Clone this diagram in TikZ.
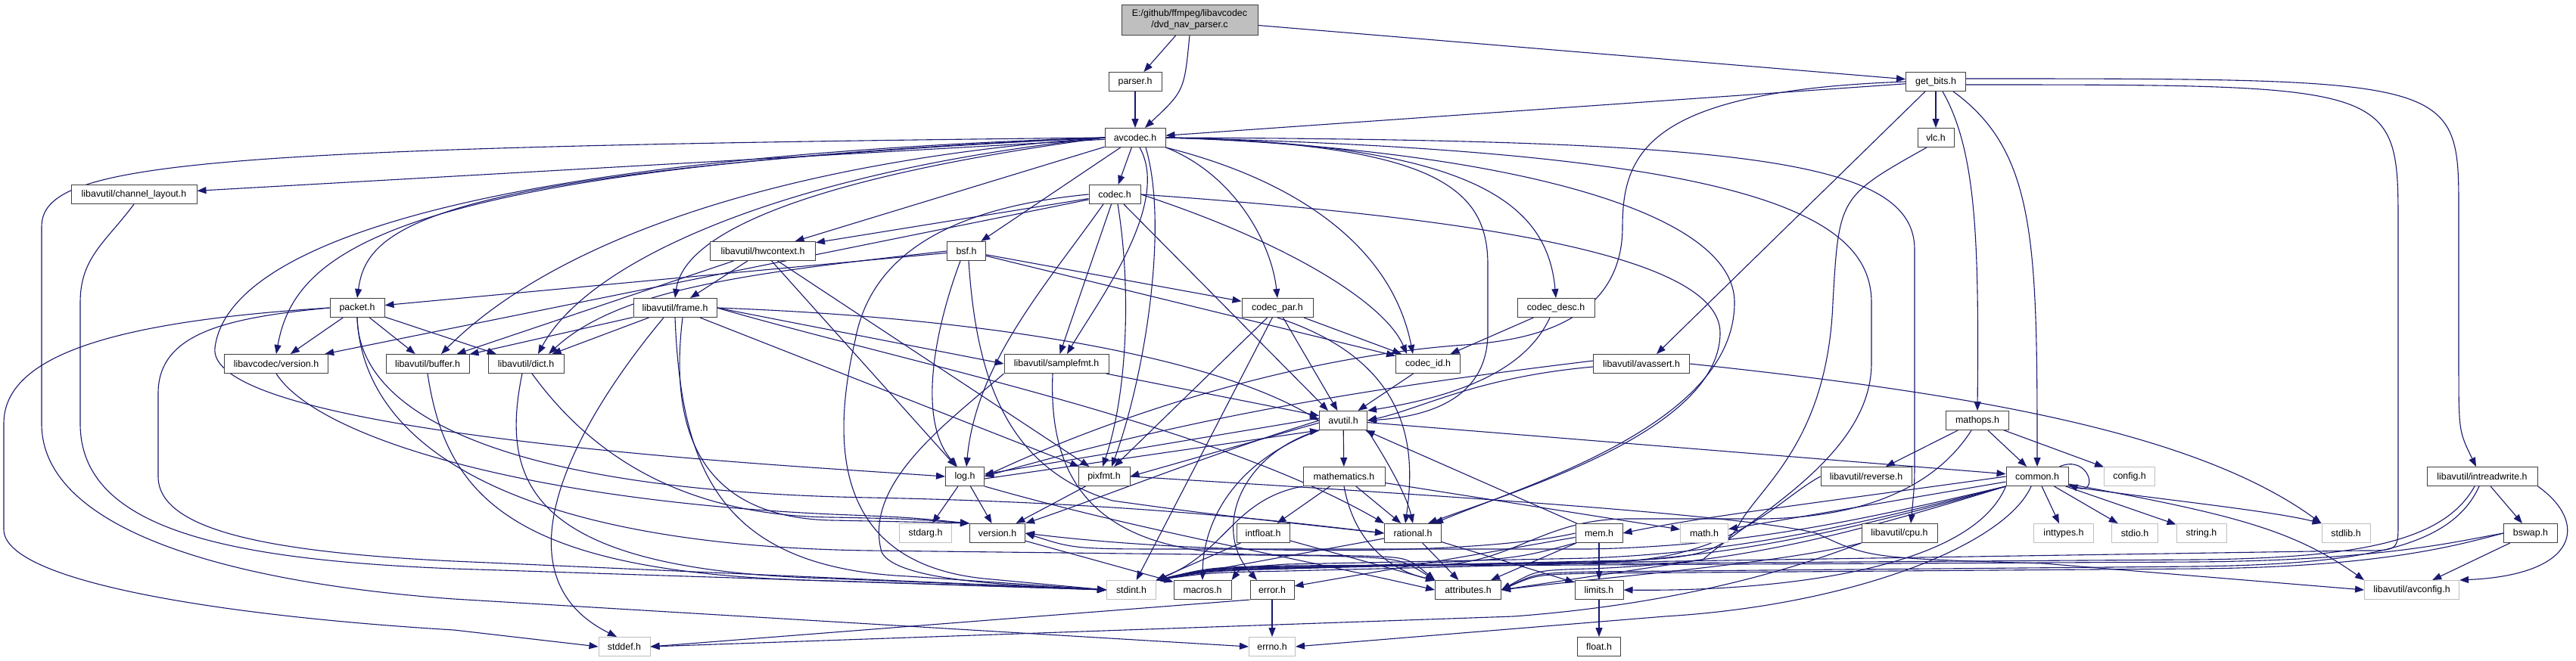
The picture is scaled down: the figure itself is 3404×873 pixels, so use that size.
\documentclass[tikz,border=0pt]{standalone}
\usepackage{fontspec}
\setmainfont{Liberation Sans}
\usepackage{xcolor}
\definecolor{depblue}{RGB}{25,25,112}
\definecolor{boxgray}{RGB}{64,64,64}
\definecolor{sysgray}{RGB}{191,191,191}
\definecolor{rootgray}{RGB}{191,191,191}
\usetikzlibrary{arrows.meta,backgrounds}

\begin{document}
\begin{tikzpicture}[x=1pt,y=1pt,
  hdr/.style={draw=boxgray,fill=white,line width=1pt,minimum height=25pt,inner sep=0pt,font=\fontsize{12.4}{15}\selectfont},
  sys/.style={hdr,draw=sysgray},
  dep/.style={draw=depblue,line width=1.1pt,-{Triangle[length=12pt,width=9pt]}}]
  \useasboundingbox (0,0) rectangle (3404,-873);
  % include graph of dvd_nav_parser.c
  \node[hdr,fill=rootgray,minimum width=180pt,minimum height=40pt,align=center] (root) at (1572,-26) {E:/github/ffmpeg/libavcodec\\/dvd\_nav\_parser.c};
  \node[hdr,minimum width=70pt] (parser) at (1500,-108) {parser.h};
  \node[hdr,minimum width=79pt] (getbits) at (2558,-108) {get\_bits.h};
  \node[hdr,minimum width=80pt] (avcodec) at (1500,-182) {avcodec.h};
  \node[hdr,minimum width=48pt] (vlc) at (2558,-182) {vlc.h};
  \node[hdr,minimum width=166pt] (chlayout) at (177,-257) {libavutil/channel\_layout.h};
  \node[hdr,minimum width=68pt] (codec) at (1473,-257) {codec.h};
  \node[hdr,minimum width=139pt] (hwctx) at (1008,-332) {libavutil/hwcontext.h};
  \node[hdr,minimum width=51pt] (bsf) at (1277,-332) {bsf.h};
  \node[hdr,minimum width=72pt] (packet) at (472,-407) {packet.h};
  \node[hdr,minimum width=110pt] (frame) at (892,-407) {libavutil/frame.h};
  \node[hdr,minimum width=94pt] (codecpar) at (1688,-407) {codec\_par.h};
  \node[hdr,minimum width=102pt] (codecdesc) at (2056,-407) {codec\_desc.h};
  \node[hdr,minimum width=137pt] (lavcver) at (365,-481) {libavcodec/version.h};
  \node[hdr,minimum width=110pt] (buffer) at (565,-481) {libavutil/buffer.h};
  \node[hdr,minimum width=100pt] (dict) at (695,-481) {libavutil/dict.h};
  \node[hdr,minimum width=138pt] (samplefmt) at (1396,-481) {libavutil/samplefmt.h};
  \node[hdr,minimum width=85pt] (codecid) at (1887,-481) {codec\_id.h};
  \node[hdr,minimum width=127pt] (avassert) at (2169,-481) {libavutil/avassert.h};
  \node[hdr,minimum width=63pt] (avutil) at (1775,-556) {avutil.h};
  \node[hdr,minimum width=83pt] (mathops) at (2613,-556) {mathops.h};
  \node[hdr,minimum width=51pt] (log) at (1275,-630) {log.h};
  \node[hdr,minimum width=68pt] (pixfmt) at (1459,-630) {pixfmt.h};
  \node[hdr,minimum width=108pt] (mathem) at (1776,-630) {mathematics.h};
  \node[hdr,minimum width=120pt] (reverse) at (2466,-630) {libavutil/reverse.h};
  \node[hdr,minimum width=82pt] (common) at (2692,-630) {common.h};
  \node[sys,minimum width=67pt] (config) at (2814,-630) {config.h};
  \node[hdr,minimum width=146pt] (intrw) at (3280,-630) {libavutil/intreadwrite.h};
  \node[sys,minimum width=69pt] (stdarg) at (1223,-705) {stdarg.h};
  \node[hdr,minimum width=73pt] (version) at (1318,-705) {version.h};
  \node[hdr,minimum width=70pt] (intfloat) at (1669,-705) {intfloat.h};
  \node[hdr,minimum width=75pt] (rational) at (1867,-705) {rational.h};
  \node[hdr,minimum width=62pt] (mem) at (2113,-705) {mem.h};
  \node[sys,minimum width=63pt] (math) at (2252,-705) {math.h};
  \node[hdr,minimum width=100pt] (cpu) at (2510,-705) {libavutil/cpu.h};
  \node[sys,minimum width=79pt] (inttypes) at (2727,-705) {inttypes.h};
  \node[sys,minimum width=61pt] (stdio) at (2821,-705) {stdio.h};
  \node[sys,minimum width=66pt] (string) at (2909,-705) {string.h};
  \node[sys,minimum width=64pt] (stdlib) at (3100,-705) {stdlib.h};
  \node[hdr,minimum width=71pt] (bswap) at (3344,-705) {bswap.h};
  \node[sys,minimum width=65pt] (stdint) at (1495,-780) {stdint.h};
  \node[hdr,minimum width=76pt] (macros) at (1589,-780) {macros.h};
  \node[hdr,minimum width=58pt] (error) at (1681,-780) {error.h};
  \node[hdr,minimum width=87pt] (attrib) at (1940,-780) {attributes.h};
  \node[hdr,minimum width=64pt] (limits) at (2113,-780) {limits.h};
  \node[sys,minimum width=125pt] (avconfig) at (3187,-780) {libavutil/avconfig.h};
  \node[sys,minimum width=68pt] (stddef) at (825,-855) {stddef.h};
  \node[sys,minimum width=61pt] (errno) at (1681,-855) {errno.h};
  \node[hdr,minimum width=57pt] (float) at (2113,-855) {float.h};

  \begin{pgfonlayer}{background}
  \fill[white] (0,0) rectangle (3404,-873);
  % source file
  \draw[dep] (root) -- (parser);
  \draw[dep] (root.south) .. controls (1565,-120) .. (avcodec.45);
  \draw[dep] (root) -- (getbits);
  \draw[dep] (parser) -- (avcodec);
  % get_bits.h and vlc.h
  \draw[dep] (getbits) -- (avcodec);
  \draw[dep] (getbits) -- (vlc);
  \draw[dep] ([xshift=9pt]getbits.south) .. controls (2612,-200) and (2615,-320) .. (mathops.north);
  \draw[dep] ([xshift=23pt]getbits.south) .. controls (2690,-200) and (2692,-320) .. (common.north);
  \draw[dep] ([xshift=-14pt]getbits.south) -- ([xshift=20pt]avassert.north);
  \draw[dep] ([yshift=4pt]getbits.east) .. controls (3249,-104) .. (3249,-280) -- (3249,-480) .. controls (3249,-570) .. ([xshift=-8pt]intrw.north);
  \draw[dep] ([yshift=-4pt]getbits.east) .. controls (3169,-112) .. (3169,-300) -- (3169,-690) .. controls (3169,-728) .. (3120,-728) -- (1700,-750) .. controls (1600,-752) .. (stdint.north east);
  \draw[dep] (getbits.west) .. controls (2180,-120) and (2144,-200) .. (2144,-300) .. controls (2144,-440) and (1990,-450) .. (1950,-455) .. controls (1700,-470) and (1450,-560) .. (log.east);
  \draw[dep] ([xshift=-12pt]vlc.south) .. controls (2430,-260) .. (2422,-400) .. controls (2415,-580) and (2330,-640) .. (2300,-690) .. controls (2280,-730) and (2240,-738) .. (2150,-741) -- (1700,-751) .. controls (1600,-753) .. (stdint.north east);
  % avcodec.h
  \draw[dep] (avcodec.west) .. controls (250,-195) and (55,-215) .. (55,-300) -- (55,-560) .. controls (55,-700) and (300,-770) .. (600,-792) -- (errno.west);
  \draw[dep] (avcodec) -- (chlayout);
  \draw[dep] (avcodec.west) .. controls (560,-225) and (485,-300) .. (packet.north);
  \draw[dep] (avcodec.west) .. controls (520,-222) and (390,-330) .. (lavcver.north);
  \draw[dep] (avcodec.west) .. controls (600,-210) and (300,-330) .. (284,-460) .. controls (275,-540) and (650,-590) .. (1100,-620) -- (log.west);
  \draw[dep] (avcodec.west) .. controls (1000,-215) and (720,-330) .. ([xshift=18pt]buffer.north);
  \draw[dep] (avcodec.west) .. controls (1050,-225) and (780,-340) .. ([xshift=16pt]dict.north);
  \draw[dep] (avcodec.west) .. controls (1100,-230) and (905,-300) .. (frame.north);
  \draw[dep] (avcodec) -- (hwctx);
  \draw[dep] (avcodec) -- (bsf);
  \draw[dep] (avcodec) -- (codec);
  \draw[dep] ([xshift=6pt]avcodec.south) .. controls (1548,-270) and (1450,-400) .. ([xshift=14pt]samplefmt.north);
  \draw[dep] ([xshift=14pt]avcodec.south) .. controls (1545,-300) and (1512,-500) .. ([xshift=10pt]pixfmt.north);
  \draw[dep] (avcodec.south east) .. controls (1630,-230) and (1680,-320) .. (codecpar.north);
  \draw[dep] (avcodec.south east) .. controls (1720,-240) and (1840,-330) .. ([xshift=-20pt]codecid.north);
  \draw[dep] (avcodec.east) .. controls (1950,-190) and (2045,-270) .. (codecdesc.north);
  \draw[dep] (avcodec.east) .. controls (1900,-190) and (1966,-250) .. (1966,-350) -- (1966,-440) .. controls (1966,-520) and (1900,-550) .. (avutil.east);
  \draw[dep] (avcodec.east) .. controls (1950,-195) and (2292,-270) .. (2292,-400) .. controls (2292,-560) and (2020,-640) .. ([xshift=28pt]rational.north);
  \draw[dep] (avcodec.east) .. controls (2300,-200) and (2473,-280) .. (2473,-400) -- (2473,-480) .. controls (2473,-600) and (2320,-680) .. (2250,-740) -- (attrib.east);
  \draw[dep] (avcodec.east) .. controls (2300,-185) and (2530,-210) .. (2530,-330) -- (2530,-600) .. controls (2530,-640) .. ([xshift=15pt]cpu.north);
  % codec.h, bsf.h, hwcontext.h
  \draw[dep] (codec) -- (lavcver);
  \draw[dep] (codec) -- (hwctx);
  \draw[dep] (codec) -- (samplefmt);
  \draw[dep] ([xshift=-15pt]codec.south) .. controls (1380,-380) and (1290,-480) .. ([xshift=2pt]log.north);
  \draw[dep] (codec.west) .. controls (1250,-275) and (1150,-340) .. (1130,-450) .. controls (1095,-600) and (1110,-745) .. (1300,-765) -- (stdint.west);
  \draw[dep] ([xshift=4pt]codec.south) .. controls (1495,-380) and (1490,-520) .. ([xshift=-2pt]pixfmt.north);
  \draw[dep] ([xshift=12pt]codec.south) -- ([xshift=-20pt]avutil.north);
  \draw[dep] (codec.east) .. controls (1700,-320) and (1830,-400) .. ([xshift=-28pt]codecid.north);
  \draw[dep] (codec.east) .. controls (1900,-285) and (2273,-330) .. (2273,-440) .. controls (2273,-570) and (2000,-650) .. ([xshift=20pt]rational.north);
  \draw[dep] (bsf) -- (packet);
  \draw[dep] (bsf) -- (codecpar);
  \draw[dep] (bsf) -- (codecid);
  \draw[dep] (bsf.west) .. controls (1000,-360) and (820,-380) .. ([xshift=30pt]dict.north);
  \draw[dep] ([xshift=-8pt]bsf.south) .. controls (1230,-450) and (1215,-560) .. ([xshift=-10pt]log.north);
  \draw[dep] ([xshift=3pt]bsf.south) .. controls (1290,-500) and (1330,-620) .. (1470,-662) .. controls (1600,-680) .. (rational.west);
  \draw[dep] (hwctx) -- (buffer);
  \draw[dep] (hwctx) -- (frame);
  \draw[dep] (hwctx) -- (log);
  \draw[dep] (hwctx) -- (pixfmt);
  % packet.h, frame.h
  \draw[dep] (packet) -- (lavcver);
  \draw[dep] (packet) -- (buffer);
  \draw[dep] (packet) -- (dict);
  \draw[dep] (packet.west) .. controls (150,-425) and (5,-470) .. (5,-560) -- (5,-700) .. controls (5,-770) and (300,-815) .. (600,-833) -- (stddef.west);
  \draw[dep] (packet.west) .. controls (300,-420) and (209,-440) .. (209,-520) -- (209,-630) .. controls (209,-700) and (350,-730) .. (600,-742) -- (stdint.west);
  \draw[dep] (packet.south) .. controls (474,-560) and (700,-650) .. (1150,-658) .. controls (1500,-665) and (1700,-690) .. (rational.west);
  \draw[dep] (packet.south) .. controls (480,-600) and (700,-722) .. (1150,-728) -- (1750,-735) .. controls (1850,-738) .. (attrib.north west);
  \draw[dep] (frame) -- (buffer);
  \draw[dep] (frame) -- (dict);
  \draw[dep] (frame.east) -- (samplefmt.west);
  \draw[dep] (frame) -- (pixfmt);
  \draw[dep] (frame.east) .. controls (1300,-420) and (1600,-470) .. (avutil.west);
  \draw[dep] (frame.east) .. controls (1200,-480) and (1600,-560) .. (rational.north west);
  \draw[dep] ([xshift=-15pt]frame.south) .. controls (760,-560) and (650,-760) .. ([xshift=-10pt]stddef.north);
  \draw[dep] (frame.south) .. controls (900,-620) and (950,-750) .. (1200,-762) -- (stdint.west);
  \draw[dep] ([xshift=10pt]frame.south) .. controls (880,-600) and (950,-685) .. (1100,-688) .. controls (1200,-690) .. (version.north west);
  % codec_par.h, codec_desc.h and the small libavutil headers
  \draw[dep] (codecpar) -- (avutil);
  \draw[dep] (codecpar) -- (pixfmt);
  \draw[dep] (codecpar) -- (codecid);
  \draw[dep] (codecpar) -- (stdint);
  \draw[dep] (codecpar.south) .. controls (1870,-480) and (1870,-600) .. ([xshift=-10pt]rational.north);
  \draw[dep] (codecdesc) -- (codecid);
  \draw[dep] ([xshift=-8pt]codecdesc.south) .. controls (2020,-480) and (1950,-520) .. (avutil.north east);
  \draw[dep] (chlayout.south) .. controls (140,-320) and (106,-340) .. (106,-400) -- (106,-560) .. controls (106,-700) and (300,-740) .. (600,-752) -- (stdint.west);
  \draw[dep] (lavcver.south) .. controls (420,-580) and (700,-662) .. (1100,-680) .. controls (1200,-684) .. (version.north west);
  \draw[dep] (buffer.south) .. controls (590,-660) and (680,-760) .. (1100,-768) -- (stdint.west);
  \draw[dep] ([xshift=-5pt]dict.south) .. controls (660,-640) and (700,-755) .. (1100,-765) -- (stdint.west);
  \draw[dep] ([xshift=8pt]dict.south) .. controls (780,-600) and (900,-682) .. (1100,-684) .. controls (1200,-686) .. (version.north west);
  \draw[dep] (samplefmt.south west) .. controls (1250,-560) and (1140,-640) .. (1165,-730) .. controls (1185,-770) and (1350,-774) .. (stdint.west);
  \draw[dep] (samplefmt) -- (avutil);
  \draw[dep] ([xshift=-5pt]samplefmt.south) .. controls (1385,-640) and (1450,-728) .. (1650,-733) -- (1800,-735) .. controls (1860,-737) .. (attrib.north west);
  \draw[dep] (codecid) -- (avutil);
  \draw[dep] (avassert.east) .. controls (2600,-520) and (2900,-570) .. (stdlib.north west);
  \draw[dep] ([yshift=-4pt]avassert.west) .. controls (1950,-499) and (1880,-540) .. (avutil.east);
  \draw[dep] ([yshift=4pt]avassert.west) .. controls (1750,-520) and (1550,-560) .. (log.east);
  % avutil.h and friends
  \draw[dep] (avutil) -- (common);
  \draw[dep] (avutil) -- (mathem);
  \draw[dep] (avutil.south west) .. controls (1640,-600) and (1600,-700) .. ([xshift=-20pt]error.north);
  \draw[dep] (avutil.south west) .. controls (1630,-610) and (1590,-690) .. (macros.north);
  \draw[dep] (avutil.south east) .. controls (1840,-620) and (1860,-660) .. (rational.north);
  \draw[dep] (avutil.west) .. controls (1600,-600) and (1450,-660) .. (version.north east);
  \draw[dep] ([yshift=3pt]avutil.west) -- ([yshift=3pt]log.east);
  \draw[dep] ([yshift=-3pt]avutil.west) -- (pixfmt.east);
  \draw[dep] ([yshift=-3pt]log.east) -- (avutil.south west);
  \draw[dep] (mathops) -- (config);
  \draw[dep] (mathops) -- (common);
  \draw[dep] (mathops) -- (reverse);
  \draw[dep] ([xshift=-8pt]mathops.south) .. controls (2560,-640) and (2470,-684) .. (2330,-686) -- (2150,-686) .. controls (2040,-686) and (2000,-744) .. (1900,-747) -- (1700,-752) .. controls (1600,-754) .. (stdint.north east);
  \draw[dep] (log) -- (stdarg);
  \draw[dep] (log) -- (version);
  \draw[dep] (log.south east) .. controls (1500,-700) and (1700,-735) .. (attrib.west);
  \draw[dep] (pixfmt) -- (version);
  \draw[dep] (pixfmt.east) .. controls (1900,-655) and (2300,-680) .. (2400,-705) .. controls (2470,-738) .. (2700,-745) -- (avconfig.west);
  \draw[dep] (mathem) -- (intfloat);
  \draw[dep] (mathem) -- (rational);
  \draw[dep] (mathem) -- (math);
  \draw[dep] (mathem.south west) .. controls (1630,-660) and (1620,-730) .. (stdint.north east);
  \draw[dep] (mathem.south) .. controls (1790,-720) and (1840,-755) .. (attrib.north west);
  \draw[dep] (reverse.west) .. controls (2350,-660) and (2300,-730) .. (2150,-742) -- (1700,-750) .. controls (1600,-752) .. (stdint.north east);
  % common.h
  \draw[dep] ([xshift=-12pt]common.north east) .. controls (2760,-600) and (2775,-655) .. (common.-15);
  \draw[dep] (common) -- (inttypes);
  \draw[dep] (common) -- (stdio);
  \draw[dep] (common) -- (string);
  \draw[dep] (common.south east) .. controls (2850,-660) and (3000,-675) .. (stdlib.north west);
  \draw[dep] ([yshift=3pt]common.south east) .. controls (2950,-680) and (3030,-700) .. (avconfig.north west);
  \draw[dep] ([xshift=-8pt]common.south) .. controls (2650,-720) and (2450,-800) .. (2200,-815) -- (errno.east);
  \draw[dep] (common.south west) .. controls (2600,-765) and (2300,-782) .. (limits.east);
  \draw[dep] (common) -- (math);
  \draw[dep] (common.west) .. controls (2400,-665) and (2250,-683) .. (mem.east);
  \draw[dep] (common.south west) .. controls (2450,-700) and (2300,-735) .. (2100,-745) -- (1700,-755) .. controls (1600,-757) .. (stdint.north east);
  \draw[dep] (common.south west) .. controls (2450,-705) and (2300,-745) .. (2100,-752) .. controls (2030,-754) .. (attrib.east);
  \draw[dep] (common.south west) .. controls (2450,-695) and (2300,-730) .. (2100,-738) -- (1700,-746) .. controls (1640,-750) .. (macros.north east);
  \draw[dep] (common.south west) .. controls (2450,-690) and (2300,-722) .. (2100,-726) -- (1560,-726) .. controls (1420,-726) .. (version.east);
  % intreadwrite.h, bswap.h
  \draw[dep] (intrw) -- (bswap);
  \draw[dep] (intrw.south east) .. controls (3420,-690) and (3410,-760) .. (avconfig.north east);
  \draw[dep] ([xshift=-10pt]intrw.south) .. controls (3230,-715) and (3120,-738) .. (2900,-740) -- (1700,-748) .. controls (1600,-750) .. (stdint.north east);
  \draw[dep] ([xshift=-4pt]intrw.south) .. controls (3240,-722) and (3130,-746) .. (2900,-749) -- (2100,-756) .. controls (2030,-758) .. (attrib.east);
  \draw[dep] (bswap) -- (avconfig);
  \draw[dep] (bswap.west) .. controls (3250,-715) and (3150,-741) .. (2900,-743) -- (1700,-749) .. controls (1600,-751) .. (stdint.north east);
  \draw[dep] (bswap.west) .. controls (3250,-720) and (3150,-750) .. (2900,-752) -- (2100,-758) .. controls (2030,-760) .. (attrib.east);
  % bottom rows
  \draw[dep] (version) -- (macros);
  \draw[dep] (intfloat) -- (stdint.north east);
  \draw[dep] (intfloat) -- (attrib);
  \draw[dep] (rational) -- (stdint.north east);
  \draw[dep] (rational) -- (limits);
  \draw[dep] (rational) -- (attrib);
  \draw[dep] (mem) -- (limits);
  \draw[dep] (mem) -- (attrib);
  \draw[dep] (mem) -- (error);
  \draw[dep] (mem) -- (avutil);
  \draw[dep] (mem.south west) .. controls (2000,-740) .. (1800,-748) -- (1700,-752) .. controls (1600,-755) .. (stdint.north east);
  \draw[dep] (mem.west) .. controls (1950,-735) and (1600,-735) .. (version.east);
  \draw[dep] (cpu.south west) .. controls (2350,-760) and (2200,-800) .. (2000,-815) -- (stddef.east);
  \draw[dep] (cpu.south west) .. controls (2350,-745) and (2150,-760) .. (attrib.east);
  \draw[dep] (error) -- (errno);
  \draw[dep] (error.south west) -- (stddef.east);
  \draw[dep] (limits) -- (float);
  \end{pgfonlayer}
\end{tikzpicture}
\end{document}
